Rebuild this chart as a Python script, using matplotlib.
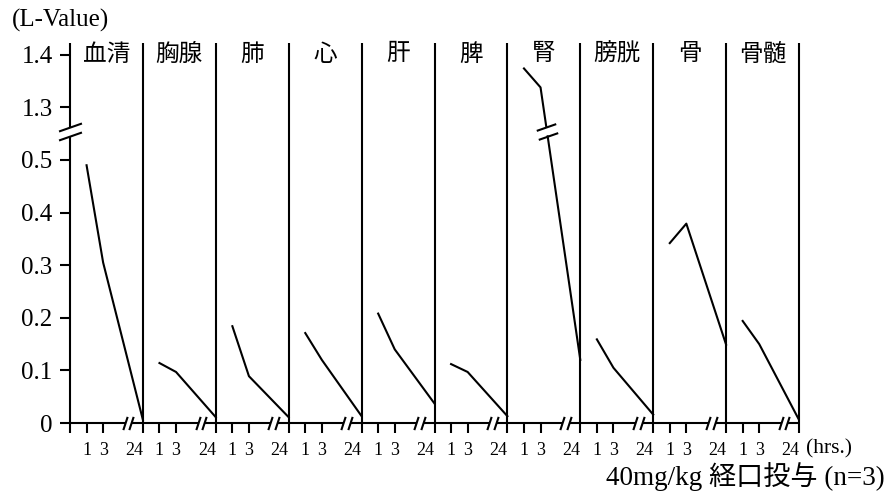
import numpy as np
import matplotlib
matplotlib.use("Agg")
from matplotlib import pyplot as plt

plt.rcParams["font.family"] = ["Liberation Serif", "Noto Sans CJK JP"]

organs = ["血清", "胸腺", "肺", "心", "肝", "脾", "腎", "膀胱", "骨", "骨髄"]
hour_labels = ["1", "3", "24"]
l_value_1h = [0.490, 0.114, 0.184, 0.171, 0.208, 0.112, 1.374, 0.159, 0.342, 0.194]
l_value_3h = [0.305, 0.097, 0.089, 0.120, 0.140, 0.097, 1.338, 0.105, 0.379, 0.150]
l_value_24h = [0.006, 0.011, 0.011, 0.013, 0.037, 0.013, 0.120, 0.016, 0.149, 0.006]
y_ticks = [0, 0.1, 0.2, 0.3, 0.4, 0.5, 1.3, 1.4]
y_tick_labels = ["0", "0.1", "0.2", "0.3", "0.4", "0.5", "1.3", "1.4"]

# y axis is broken between 0.5 and 1.3, drawn as one 0.1 step
BREAK_LOW, BREAK_HIGH, BREAK_SPAN = 0.5, 1.3, 0.1
GAP_LO, GAP_HI = 0.545, 0.563  # where the "//" sits on the drawing scale
Y_TOP = 0.7224

# each organ gets its own panel, hours placed at fixed offsets, 3h..24h broken
PANEL_W = 4.4
HOUR_POS = [1.0, 2.0, PANEL_W]
XBREAK = [3.3, 3.7]

LW = 1.5


def to_scale(v):
    v = np.asarray(v, dtype=float)
    return np.where(v > BREAK_LOW, v - (BREAK_HIGH - BREAK_LOW) + BREAK_SPAN, v)


def draw_series(ax, xs, ys):
    """Draw a polyline, cutting it with a // where it passes the y break."""
    xs, ys = list(xs), list(ys)
    seg_x, seg_y = [xs[0]], [ys[0]]
    for (x0, y0), (x1, y1) in zip(zip(xs[:-1], ys[:-1]), zip(xs[1:], ys[1:])):
        if max(y0, y1) > GAP_HI and min(y0, y1) < GAP_LO:
            xa = np.interp(GAP_HI, [min(y0, y1), max(y0, y1)], [x1, x0] if y0 > y1 else [x0, x1])
            xb = np.interp(GAP_LO, [min(y0, y1), max(y0, y1)], [x1, x0] if y0 > y1 else [x0, x1])
            seg_x.append(xa)
            seg_y.append(GAP_HI)
            ax.plot(seg_x, seg_y, color="k", lw=LW)
            ax.plot([xa, xb], [GAP_HI, GAP_LO], ls="none", marker=[(-1, -0.35), (1, 0.35)],
                    ms=14, mew=LW, color="k")
            seg_x, seg_y = [xb], [GAP_LO]
        seg_x.append(x1)
        seg_y.append(y1)
    ax.plot(seg_x, seg_y, color="k", lw=LW)


fig = plt.figure(figsize=(8.88, 4.93), dpi=100)
ax = fig.add_axes([70 / 888, 1 - 423 / 493, 729 / 888, 380 / 493])
ax.set_xlim(0, PANEL_W * len(organs))
ax.set_ylim(0, Y_TOP)
for side in ax.spines:
    ax.spines[side].set_visible(False)

# left axis with its break
ax.plot([0, 0], [0, GAP_LO], color="k", lw=LW, clip_on=False, solid_capstyle="butt")
ax.plot([0, 0], [GAP_HI, Y_TOP], color="k", lw=LW, clip_on=False, solid_capstyle="butt")
ax.plot([0, 0], [GAP_LO, GAP_HI], ls="none", marker=[(-1, -0.35), (1, 0.35)],
        ms=16.5, mew=LW, color="k", clip_on=False)

xticks, xlabels = [0], [""]
for i, organ in enumerate(organs):
    x0 = i * PANEL_W
    # baseline with a // between 3h and 24h
    ax.plot([x0, x0 + XBREAK[0]], [0, 0], color="k", lw=LW, clip_on=False, solid_capstyle="butt")
    ax.plot([x0 + XBREAK[1], x0 + PANEL_W], [0, 0], color="k", lw=LW, clip_on=False,
            solid_capstyle="butt")
    ax.plot([x0 + b for b in XBREAK], [0, 0], ls="none", marker=[(-0.33, -1), (0.33, 1)],
            ms=9.5, mew=LW, color="k", clip_on=False)
    # panel divider
    ax.plot([x0 + PANEL_W] * 2, [0, Y_TOP], color="k", lw=LW, clip_on=False, solid_capstyle="butt")
    ax.text(x0 + PANEL_W / 2, to_scale(1.4), organ, ha="center", va="center", fontsize=17)

    xs = [x0 + p for p in HOUR_POS]
    ys = to_scale([l_value_1h[i], l_value_3h[i], l_value_24h[i]])
    draw_series(ax, xs, ys)

    xticks += xs
    xlabels += hour_labels

ax.set_xticks(xticks)
ax.set_xticklabels(xlabels)
ax.set_yticks(to_scale(y_ticks))
ax.set_yticklabels(y_tick_labels)
ax.tick_params(axis="x", direction="out", length=7.5, width=LW, pad=6, labelsize=13)
ax.tick_params(axis="y", direction="out", length=7.5, width=LW, pad=5, labelsize=18)

# the 24h labels sit just left of the divider they belong to
for tick, label in zip(ax.xaxis.get_major_ticks(), xlabels):
    if label == "24":
        tick.label1.set_horizontalalignment("right")

fig.text(12 / 888, 1 - 20 / 493, "(L-Value)", fontsize=18, ha="left", va="center")
fig.text(806 / 888, 1 - 449 / 493, "(hrs.)", fontsize=15.5, ha="left", va="center")
fig.text(885 / 888, 1 - 477 / 493, "40mg/kg 経口投与 (n=3)", fontsize=19.5, ha="right", va="center")

fig.savefig("out.png", dpi=100)
